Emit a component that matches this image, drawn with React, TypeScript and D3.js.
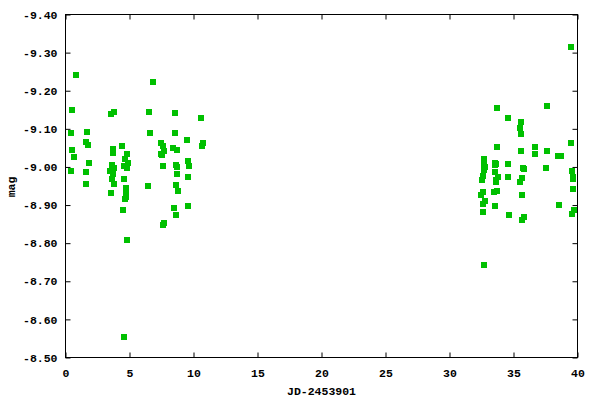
import { useEffect, useRef } from 'react';
import * as d3 from 'd3';

// JD-2453901 offsets and magnitudes
const jd = [
  0.84, 0.53, 3.58, 3.81, 6.86, 6.55, 8.58, 10.61, 0.45, 0.53, 0.69, 0.45,
  1.70, 1.63, 1.78, 1.86, 1.63, 1.63, 3.73, 3.73, 4.44, 3.66, 3.81, 3.50,
  3.73, 3.66, 3.81, 3.58, 4.83, 4.67, 4.91, 4.59, 4.83, 4.59, 4.75, 4.75,
  4.75, 4.67, 4.52, 4.83, 4.59, 6.63, 6.47, 7.48, 7.64, 7.72, 7.48, 7.56,
  7.64, 7.64, 7.72, 8.58, 8.42, 8.73, 8.66, 8.73, 8.73, 8.66, 8.81, 8.50,
  8.66, 9.52, 9.59, 9.67, 9.59, 9.59, 10.77, 10.69,
  39.52, 33.73, 34.59, 35.61, 35.53, 35.61, 37.64, 33.73, 35.61, 32.72,
  32.72, 32.80, 32.72, 33.58, 33.66, 33.58, 34.59, 35.77, 35.84, 33.58,
  32.64, 32.56, 33.81, 33.66, 33.66, 34.59, 35.69, 35.53, 32.64, 32.48,
  33.73, 33.50, 35.69, 32.80, 32.64, 33.58, 32.64, 34.67, 35.84, 35.69,
  32.72, 39.52, 36.70, 36.70, 37.64, 38.50, 38.73, 37.56, 39.59, 39.67,
  39.67, 39.67, 38.58, 39.75, 39.59,
];
const mag = [
  -9.241, -9.149, -9.139, -9.144, -9.223, -9.144, -9.141, -9.128, -9.089, -9.044, -9.026, -8.989,
  -9.091, -9.065, -9.057, -9.010, -8.986, -8.954, -9.047, -9.036, -9.054, -9.004, -8.997, -8.989,
  -8.981, -8.968, -8.954, -8.931, -9.033, -9.020, -9.010, -9.002, -8.997, -8.968, -8.944, -8.928,
  -8.920, -8.915, -8.886, -8.807, -8.554, -9.089, -8.949, -9.062, -9.054, -9.041, -9.033, -9.031,
  -9.002, -8.847, -8.854, -9.089, -9.049, -9.044, -9.004, -8.999, -8.981, -8.952, -8.936, -8.891,
  -8.873, -9.070, -9.015, -9.002, -8.973, -8.897, -9.062, -9.054,
  -9.315, -9.154, -9.128, -9.118, -9.102, -9.086, -9.160, -9.052, -9.041, -9.020,
  -9.004, -8.999, -8.991, -9.010, -9.007, -9.004, -9.007, -8.997, -8.994, -8.986,
  -8.976, -8.965, -8.973, -8.965, -8.960, -8.973, -8.970, -8.960, -8.933, -8.926,
  -8.936, -8.933, -8.926, -8.910, -8.902, -8.897, -8.881, -8.873, -8.868, -8.860,
  -8.744, -9.062, -9.052, -9.033, -9.041, -9.028, -9.028, -8.997, -8.989, -8.973,
  -8.968, -8.941, -8.899, -8.886, -8.876,
];

const xTicks = [0, 5, 10, 15, 20, 25, 30, 35, 40];
const yTicks = [-9.4, -9.3, -9.2, -9.1, -9.0, -8.9, -8.8, -8.7, -8.6, -8.5];

export default function App() {
  const svgRef = useRef<SVGSVGElement>(null);

  useEffect(() => {
    if (!svgRef.current) return;

    const left = 65.5, right = 577.5, top = 14.5, bottom = 357.5;
    const font = '"Liberation Mono", "DejaVu Sans Mono", monospace';

    const svg = d3.select(svgRef.current);
    svg.selectAll("*").remove();

    const x = d3.scaleLinear().domain([0, 40]).range([left, right]);
    const y = d3.scaleLinear().domain([-9.4, -8.5]).range([top, bottom]);

    const styleAxis = (g: any) => {
      g.select(".domain").remove();
      g.selectAll("line").attr("stroke", "#000").attr("stroke-width", 1);
      g.selectAll("text")
        .attr("fill", "#000")
        .attr("font-family", font)
        .attr("font-weight", "bold")
        .attr("font-size", "11.5px");
    };

    // left + bottom axes, ticks pointing inward
    svg.append("g")
      .attr("transform", `translate(${left},0)`)
      .call(d3.axisLeft(y).tickValues(yTicks).tickSize(-5).tickPadding(8)
        .tickFormat((d: any) => d.toFixed(2)))
      .call(styleAxis);

    svg.append("g")
      .attr("transform", `translate(0,${bottom})`)
      .call(d3.axisBottom(x).tickValues(xTicks).tickSize(-5).tickPadding(11)
        .tickFormat((d: any) => String(d)))
      .call(styleAxis);

    // mirrored ticks
    svg.append("g")
      .attr("transform", `translate(${right},0)`)
      .call(d3.axisRight(y).tickValues(yTicks).tickSize(-5).tickFormat(() => ""))
      .call(styleAxis);

    svg.append("g")
      .attr("transform", `translate(0,${top})`)
      .call(d3.axisTop(x).tickValues(xTicks).tickSize(-5).tickFormat(() => ""))
      .call(styleAxis);

    // border
    svg.append("rect")
      .attr("x", left)
      .attr("y", top)
      .attr("width", right - left)
      .attr("height", bottom - top)
      .attr("fill", "none")
      .attr("stroke", "#000")
      .attr("stroke-width", 1);

    // points
    const pts = jd.map((d, i) => ({ jd: d, mag: mag[i] }));
    const s = 6;
    svg.append("g")
      .selectAll("rect")
      .data(pts)
      .join("rect")
      .attr("x", d => Math.round(x(d.jd)) - s / 2)
      .attr("y", d => Math.round(y(d.mag)) - s / 2)
      .attr("width", s)
      .attr("height", s)
      .attr("fill", "#00c000");

    // axis titles
    svg.append("text")
      .attr("x", (left + right) / 2)
      .attr("y", 395)
      .attr("text-anchor", "middle")
      .attr("font-family", font)
      .attr("font-weight", "bold")
      .attr("font-size", "11.5px")
      .text("JD-2453901");

    svg.append("text")
      .attr("transform", `translate(15,187) rotate(-90)`)
      .attr("text-anchor", "middle")
      .attr("font-family", font)
      .attr("font-weight", "bold")
      .attr("font-size", "11.5px")
      .text("mag");
  }, []);

  return (
    <svg
      ref={svgRef}
      width={600}
      height={400}
      style={{ position: 'absolute', left: 0, top: 0, background: '#fff' }}
    />
  );
}
